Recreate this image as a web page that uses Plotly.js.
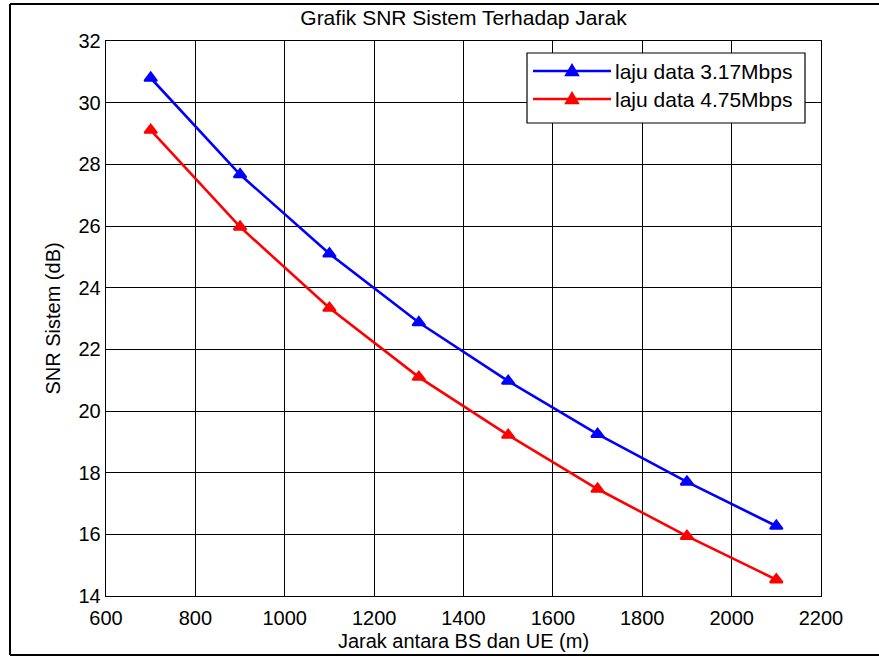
<!DOCTYPE html>
<html>
<head>
<meta charset="utf-8">
<script src="https://cdn.plot.ly/plotly-3.0.1.min.js"></script>
<style>
  html, body { margin: 0; padding: 0; background: #ffffff; }
  #chart { width: 879px; height: 657px; }
</style>
</head>
<body>
<div id="chart"></div>
<script>
// Distance between BS and UE (m)
const jarak = [700, 900, 1100, 1300, 1500, 1700, 1900, 2100];
// System SNR (dB) for each data rate
const snr317 = [30.80, 27.67, 25.10, 22.87, 20.97, 19.25, 17.70, 16.27];
const snr475 = [29.11, 25.97, 23.34, 21.10, 19.22, 17.47, 15.94, 14.53];

const seriesNames = ['laju data 3.17Mbps', 'laju data 4.75Mbps'];
const seriesColors = ['#0000ff', '#ff0000'];

const xTicks = [600, 800, 1000, 1200, 1400, 1600, 1800, 2000, 2200];
const yTicks = [14, 16, 18, 20, 22, 24, 26, 28, 30, 32];

const W = 879, H = 657;
const M = { l: 106, r: 58, t: 41, b: 61 };
const PW = W - M.l - M.r, PH = H - M.t - M.b;

// pixel position -> paper coordinates
const px = x => (x - M.l) / PW;
const py = y => (H - M.b - y) / PH;

const fontFam = '"Liberation Sans", Arial, Helvetica, sans-serif';

function series(y, i) {
  return {
    x: jarak, y: y, name: seriesNames[i], type: 'scatter', mode: 'lines+markers',
    line: { color: seriesColors[i], width: 2.6 },
    marker: { symbol: 'triangle-up', size: 11, color: seriesColors[i],
              line: { color: seriesColors[i], width: 2 } },
    showlegend: false, cliponaxis: false
  };
}

const data = [series(snr317, 0), series(snr475, 1)];

// legend box drawn from shapes and annotations
const shapes = [];
const annotations = [];
shapes.push({ type: 'rect', xref: 'paper', yref: 'paper',
  x0: px(527), x1: px(805), y0: py(53), y1: py(123),
  fillcolor: '#ffffff', line: { color: '#000000', width: 1.2 }, layer: 'above' });
[71, 99].forEach((ly, i) => {
  shapes.push({ type: 'line', xref: 'paper', yref: 'paper',
    x0: px(533), x1: px(611), y0: py(ly), y1: py(ly),
    line: { color: seriesColors[i], width: 2.6 }, layer: 'above' });
  const cx = 572, cy = ly;
  shapes.push({ type: 'path', xref: 'paper', yref: 'paper', layer: 'above',
    path: `M${px(cx - 6.5)},${py(cy + 4.5)} L${px(cx + 6.5)},${py(cy + 4.5)} L${px(cx)},${py(cy - 6.5)} Z`,
    fillcolor: seriesColors[i], line: { color: seriesColors[i], width: 1.5 } });
  annotations.push({ xref: 'paper', yref: 'paper', x: px(613), y: py(ly),
    xanchor: 'left', yanchor: 'middle', showarrow: false, text: seriesNames[i],
    font: { family: fontFam, size: 21, color: '#000000' } });
});

// outer figure frame
const frame = { color: '#000000', width: 2 };
shapes.push({ type: 'line', xref: 'paper', yref: 'paper', x0: px(10), x1: px(880), y0: py(4), y1: py(4), line: frame });
shapes.push({ type: 'line', xref: 'paper', yref: 'paper', x0: px(10), x1: px(880), y0: py(655), y1: py(655), line: frame });
shapes.push({ type: 'line', xref: 'paper', yref: 'paper', x0: px(10), x1: px(10), y0: py(4), y1: py(655), line: frame });

const axisCommon = {
  showgrid: true, gridcolor: '#000000', gridwidth: 1,
  showline: true, linecolor: '#000000', linewidth: 1.3, mirror: 'ticks',
  ticks: 'inside', ticklen: 5, tickcolor: '#000000',
  zeroline: false, tickfont: { family: fontFam, size: 20, color: '#000000' }
};

const layout = {
  width: W, height: H, margin: M,
  paper_bgcolor: '#ffffff', plot_bgcolor: '#ffffff',
  title: { text: 'Grafik SNR Sistem Terhadap Jarak', x: 0.5, xref: 'paper',
           y: 1 - 18 / H, yanchor: 'middle',
           font: { family: fontFam, size: 21, color: '#000000' } },
  xaxis: Object.assign({}, axisCommon, {
    range: [600, 2200], tickvals: xTicks, ticktext: xTicks.map(String),
    ticklabelstandoff: 4,
    title: { text: 'Jarak antara BS dan UE (m)', standoff: 5,
             font: { family: fontFam, size: 20, color: '#000000' } }
  }),
  yaxis: Object.assign({}, axisCommon, {
    range: [14, 32], tickvals: yTicks, ticktext: yTicks.map(String),
    title: { text: 'SNR Sistem (dB)', standoff: 12,
             font: { family: fontFam, size: 20, color: '#000000' } }
  }),
  shapes: shapes, annotations: annotations, showlegend: false
};

Plotly.newPlot('chart', data, layout, { displayModeBar: false, staticPlot: true });
</script>
</body>
</html>
